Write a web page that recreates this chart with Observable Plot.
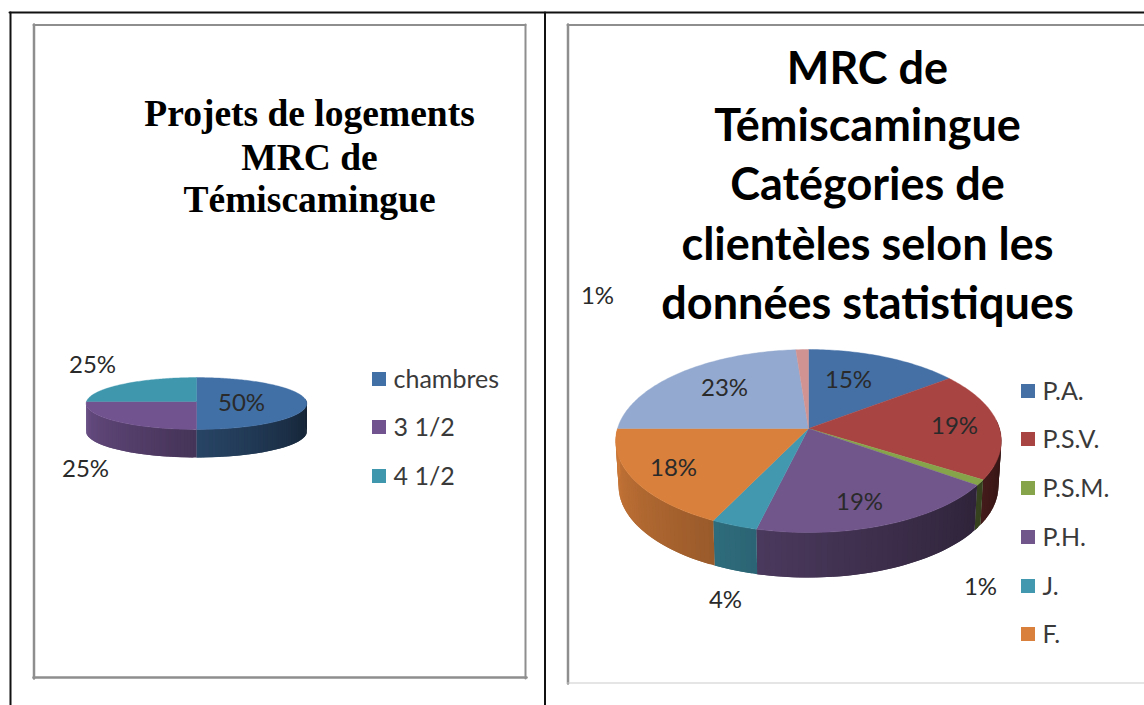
<!DOCTYPE html>
<html>
<head>
<meta charset="utf-8">
<script src="https://cdn.jsdelivr.net/npm/d3@7"></script>
<script src="https://cdn.jsdelivr.net/npm/@observablehq/plot@0.6"></script>
<style>html,body{margin:0;padding:0;background:#fff;overflow:hidden}svg{display:block}</style>
</head>
<body>
<div id="chart"></div>
<script>
// ---- data ----
const leftCategories = ["chambres", "3 1/2", "4 1/2"];
const leftShares = [50, 25, 25];
const leftLabels = ["50%", "25%", "25%"];
const leftColors = ["#4170a6", "#71548f", "#3f97ae"];

const rightCategories = ["P.A.", "P.S.V.", "P.S.M.", "P.H.", "J.", "F."];
const rightShares = [14.7, 19.2, 1.0, 18.9, 3.4, 17.8, 23.8, 1.2]; // slice sizes
const rightLabels = ["15%", "19%", "1%", "19%", "4%", "18%", "23%", "1%"];
const rightColors = ["#4470a6", "#a84442", "#86a44a", "#71568c", "#4198af", "#d9803c", "#93a9cf", "#d09392"];

const leftTitle = ["Projets de logements", "MRC de", "Témiscamingue"];
const rightTitle = ["MRC de", "Témiscamingue", "Catégories de", "clientèles selon les", "données statistiques"];

// ---- layout ----
const leftPie = {cx: 196, cy: 401, rx: 110, ry: 25.8, k: 0.077, depth: 28, inset: 1};
const rightPie = {cx: 808, cy: 428, rx: 191, ry: 89.8, k: 0.137, depth: 45, inset: 0.985};
const leftLabelPos = [[241, 403], [92, 365], [85, 469]];
const rightLabelPos = [[848, 380], [954, 426], [980, 587], [859, 502], [725, 600], [673, 468], [724, 388], [597, 296]];
const leftTitleLay = {x: 309, y: [113, 157, 199], size: 37.5};
const rightTitleLay = {x: 867, y: [69, 126, 185, 245, 304], size: 45};
const leftLegend = {x: 379, y: [379, 427, 476]};
const rightLegend = {x: 1028, y: [391, 439, 488, 537, 586, 634]};

// ---- geometry from the values ----
function project(p, deg) {
  const a = deg * Math.PI / 180, u = Math.sin(a), v = -Math.cos(a);
  const w = 1 / (1 - p.k * v);
  return [p.cx + p.rx * u * w, p.cy + p.ry * v * w];
}
function pieGeometry(p, shares, colors) {
  const total = d3.sum(shares);
  const top = [], wall = [];
  let start = 0, id = 0;
  shares.forEach((s, i) => {
    const end = start + s / total * 360;
    // top face
    top.push({id: "t" + i, x: p.cx, y: p.cy, fill: colors[i]});
    for (let d = start; ; d += 1) {
      const q = project(p, Math.min(d, end));
      top.push({id: "t" + i, x: q[0], y: q[1], fill: colors[i]});
      if (d >= end) break;
    }
    top.push({id: "t" + i, x: p.cx, y: p.cy, fill: colors[i]});
    // side wall, shaded by angle; each strip overlaps the next one to hide seams
    const hi = Math.min(end, 270);
    for (let d = Math.max(start, 84); d < hi; d += 1.5) {
      const e = Math.min(d + 3, hi);
      const f = Math.max(0.28, Math.min(0.95, 0.28 + (d - 90) / 180 * 0.67));
      const c = d3.rgb(colors[i]);
      const fill = d3.rgb(c.r * f, c.g * f, c.b * f).formatHex();
      const a = project(p, d), b = project(p, e);
      const low = q => [p.cx + (q[0] - p.cx) * p.inset, q[1] + p.depth];
      const la = low(a), lb = low(b);
      const key = "w" + id++;
      for (const q of [a, b, lb, la, a]) wall.push({id: key, x: q[0], y: q[1], fill});
    }
    start = end;
  });
  return [
    Plot.line(wall, {x: "x", y: "y", z: "id", fill: "fill", stroke: "none", curve: "linear"}),
    Plot.line(top, {x: "x", y: "y", z: "id", fill: "fill", stroke: "fill", strokeWidth: 0.4, curve: "linear"})
  ];
}
const textFont = "Lato";
function labelMark(labels, pos) {
  return Plot.text(labels, {x: (d, i) => pos[i][0], y: (d, i) => pos[i][1], text: d => d,
    fontFamily: textFont, fontSize: 24, fill: "#2a2a2a"});
}
function legendMarks(cats, colors, lay) {
  return [
    Plot.rect(cats, {x1: (d, i) => lay.x - 7, x2: (d, i) => lay.x + 7, y1: (d, i) => lay.y[i] - 7, y2: (d, i) => lay.y[i] + 7,
      fill: (d, i) => colors[i]}),
    Plot.text(cats, {x: (d, i) => lay.x + 14, y: (d, i) => lay.y[i], text: d => d, textAnchor: "start",
      fontFamily: textFont, fontSize: 25, fill: "#3a3a3a"})
  ];
}
function titleMark(lines, lay, family) {
  return Plot.text(lines, {x: lay.x, y: (d, i) => lay.y[i], text: d => d, fontFamily: family,
    fontWeight: "bold", fontSize: lay.size, fill: "#000"});
}
function seg(x1, y1, x2, y2, color, w) {
  return Plot.line([[x1, y1], [x2, y2]], {stroke: color, strokeWidth: w});
}

const chart = Plot.plot({
  width: 1144, height: 705, margin: 0,
  x: {domain: [0, 1144], range: [0, 1144], axis: null},
  y: {domain: [0, 705], range: [0, 705], axis: null},
  marks: [
    // table rules
    seg(9, 12, 1144, 12, "#111", 2),
    seg(10, 12, 10, 705, "#111", 2),
    seg(544.5, 12, 544.5, 705, "#111", 2),
    // chart frames
    seg(33, 24.5, 525, 24.5, "#8e8e8e", 2),
    seg(33.5, 24, 33.5, 678, "#8e8e8e", 2.5),
    seg(33, 677, 526, 677, "#8e8e8e", 2.5),
    seg(525, 24, 525, 678, "#8e8e8e", 2),
    seg(567, 24.5, 1144, 24.5, "#8e8e8e", 2),
    seg(567.5, 24, 567.5, 683, "#8e8e8e", 2.5),
    seg(567, 682.5, 1144, 682.5, "#cccccc", 1.2),
    // left chart
    titleMark(leftTitle, leftTitleLay, "Liberation Serif"),
    ...pieGeometry(leftPie, leftShares, leftColors),
    labelMark(leftLabels, leftLabelPos),
    ...legendMarks(leftCategories, leftColors, leftLegend),
    // right chart
    titleMark(rightTitle, rightTitleLay, textFont),
    ...pieGeometry(rightPie, rightShares, rightColors),
    labelMark(rightLabels, rightLabelPos),
    ...legendMarks(rightCategories, rightColors, rightLegend)
  ]
});
document.getElementById("chart").append(chart);
</script>
</body>
</html>
